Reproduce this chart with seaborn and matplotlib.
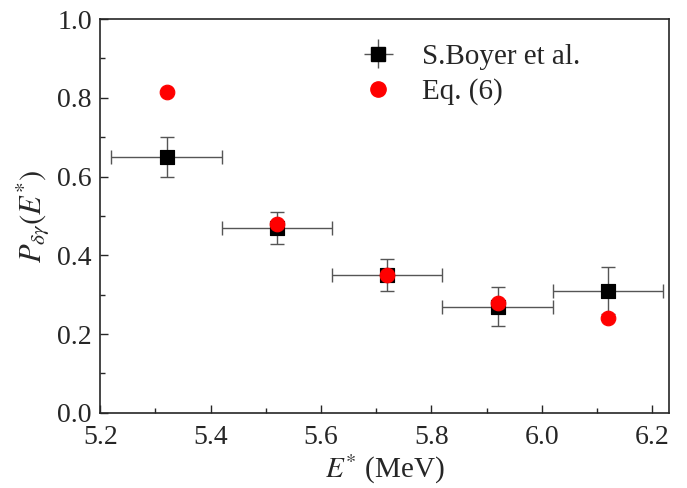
import matplotlib
matplotlib.use("Agg")
import matplotlib.pyplot as plt
import seaborn as sns
import pandas as pd
from matplotlib.ticker import MultipleLocator

# datos
energia = [5.32, 5.52, 5.72, 5.92, 6.12]
boyer = [0.65, 0.47, 0.35, 0.27, 0.31]
boyer_err_y = [0.05, 0.04, 0.04, 0.05, 0.06]
boyer_err_x = [0.10, 0.10, 0.10, 0.10, 0.10]
eq6 = [0.815, 0.48, 0.35, 0.28, 0.24]

sns.set_style("ticks")
plt.rcParams['font.family'] = ['Liberation Serif', 'DejaVu Serif']
plt.rcParams['mathtext.fontset'] = 'stix'

df_b = pd.DataFrame({'E': energia, 'P': boyer})
df_e = pd.DataFrame({'E': energia, 'P': eq6})

fig = plt.figure(figsize=(6.87, 4.88), dpi=100)
ax = fig.add_axes([0.146, 0.154, 0.828, 0.807])

ax.errorbar(energia, boyer, xerr=boyer_err_x, yerr=boyer_err_y, fmt='none',
            ecolor='#555555', elinewidth=1.0, capsize=5, capthick=1.0, zorder=2)
sns.scatterplot(data=df_b, x='E', y='P', marker='s', color='black', s=110,
                edgecolor='black', ax=ax, zorder=3)
sns.scatterplot(data=df_e, x='E', y='P', marker='o', color='red', s=110,
                edgecolor='red', ax=ax, zorder=4)

# leyenda a mano con errorbar
h1 = ax.errorbar([], [], xerr=[], yerr=[], fmt='s', color='black', markersize=10,
                 ecolor='#555555', elinewidth=1.0, capsize=4)
h2, = ax.plot([], [], 'o', color='red', markersize=11)
ax.legend([h1, h2], ['S.Boyer et al.', 'Eq. (6)'], loc='upper right',
          bbox_to_anchor=(0.89, 1.005), frameon=False, fontsize=21,
          handlelength=1.4, handletextpad=0.8, labelspacing=0.3)

ax.set_xlim(5.2, 6.231)
ax.set_ylim(0.0, 1.0)
ax.xaxis.set_major_locator(MultipleLocator(0.2))
ax.xaxis.set_minor_locator(MultipleLocator(0.1))
ax.yaxis.set_major_locator(MultipleLocator(0.2))
ax.yaxis.set_minor_locator(MultipleLocator(0.1))
ax.tick_params(which='both', direction='in', labelsize=20, width=1.0)
ax.tick_params(which='major', length=6)
ax.tick_params(axis='x', which='major', pad=9)
ax.tick_params(axis='y', which='major', pad=6)
ax.tick_params(which='minor', length=3.5)
ax.xaxis.set_major_formatter(plt.FuncFormatter(lambda v, p: f'{v:.1f}'))
ax.yaxis.set_major_formatter(plt.FuncFormatter(lambda v, p: f'{v:.1f}'))
for s in ax.spines.values():
    s.set_visible(True)
    s.set_linewidth(1.2)

ax.set_xlabel(r'$E^{*}$ (MeV)', fontsize=21, labelpad=2)
ax.set_ylabel(r'$P_{\delta\gamma}(E^{*})$', fontsize=22, labelpad=4)

fig.savefig('out.png', dpi=100)
